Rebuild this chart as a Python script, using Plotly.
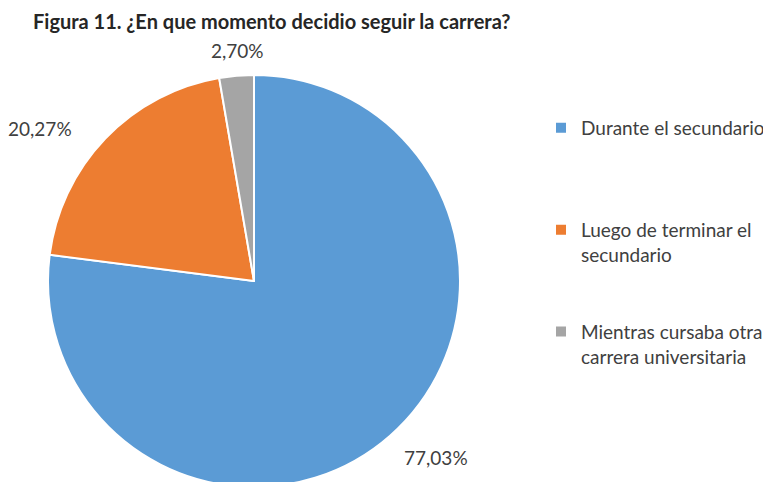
import plotly.graph_objects as go

categories = ["Durante el secundario", "Luego de terminar el<br>secundario", "Mientras cursaba otra<br>carrera universitaria"]
legend_pad = ["<br> <br> <br> ", "<br> <br> ", "<br> <br> "]
values = [57, 15, 2]
colors = ["#5B9BD5", "#ED7D31", "#A5A5A5"]
title_text = "Figura 11. ¿En que momento decidio seguir la carrera?"

# the page body adds an 8px margin, so the figure is laid out in its own coords
OFF = 8
W, H = 771 - OFF, 482

def fx(px):
    return (px - OFF) / W

def fy(py):
    return 1 - (py - OFF) / H

# pie geometry (viewport pixels)
CX, CY, R = 254, 281, 206

# percent label placement (viewport pixel centres)
label_pos = [(436, 457), (40, 128), (237, 50)]

total = sum(values)
pct_text = [f"{v / total * 100:.2f}%".replace(".", ",") for v in values]

fig = go.Figure(go.Pie(
    labels=[c + p for c, p in zip(categories, legend_pad)],
    values=values,
    sort=False,
    direction="clockwise",
    rotation=0,
    marker=dict(colors=colors, line=dict(color="white", width=2)),
    textinfo="none",
    hoverinfo="none",
    domain=dict(x=[fx(CX - R), fx(CX + R)], y=[fy(CY + R), fy(CY - R)]),
))

annotations = [dict(
    text="<b>" + title_text + "</b>",
    xref="paper", yref="paper",
    x=fx(32), y=1, xanchor="left", yanchor="top",
    showarrow=False, borderpad=0,
    font=dict(family="Lato", size=20, color="#262626"),
)]
for t, (px, py) in zip(pct_text, label_pos):
    annotations.append(dict(
        text=t, xref="paper", yref="paper",
        x=fx(px), y=fy(py), xanchor="center", yanchor="middle",
        showarrow=False,
        font=dict(family="Lato", size=19, color="#404040"),
    ))

fig.update_layout(
    width=W, height=H,
    margin=dict(l=0, r=0, t=0, b=0, autoexpand=False),
    paper_bgcolor="white",
    plot_bgcolor="white",
    showlegend=True,
    legend=dict(
        x=fx(541), y=fy(109), xanchor="left", yanchor="top",
        valign="top",
        font=dict(family="Lato", size=19, color="#404040"),
        itemwidth=30,
        traceorder="normal",
    ),
    annotations=annotations,
)

fig.write_html("out.html")
